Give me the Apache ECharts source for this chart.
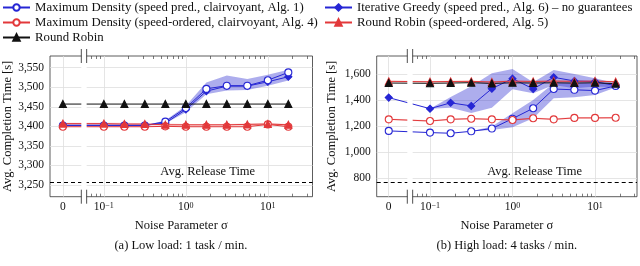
<!DOCTYPE html>
<html><head><meta charset="utf-8">
<script src="https://cdn.jsdelivr.net/npm/echarts@6/dist/echarts.min.js"></script>
<style>html,body{margin:0;padding:0;background:#fff}#c{width:640px;height:266px}</style>
</head><body><div id="c"></div>
<script>
// ---------- data ----------
const sigma = [0, 0.1, 0.178, 0.316, 0.562, 1, 1.78, 3.16, 5.62, 10, 17.8];
const xMajorTicks = [0, 0.1, 1, 10];
const xMajorLabels = ['0', '10{s|−1}', '10{s|0}', '10{s|1}'];
const xMinorTicks = [0.07, 0.08, 0.09, 0.2, 0.3, 0.4, 0.5, 0.6, 0.7, 0.8, 0.9, 2, 3, 4, 5, 6, 7, 8, 9, 20, 30];
const lowYTicks = [3250, 3300, 3350, 3400, 3450, 3500, 3550];
const highYTicks = [800, 1000, 1200, 1400, 1600];
const lowRelease = 3256;
const highRelease = 767;

// low load
const lowMDS = [3402, 3402, 3402, 3402, 3412, 3447, 3496, 3504, 3504, 3518, 3538];
const lowMDO = [3399, 3399, 3399, 3399, 3400, 3399, 3399, 3399, 3399, 3405, 3399];
const lowRR  = [3457, 3457, 3457, 3457, 3457, 3457, 3457, 3457, 3457, 3457, 3457];
const lowIG  = [3403, 3403, 3403, 3403, 3408, 3443, 3490, 3503, 3503, 3514, 3527];
const lowRRO = [3407, 3407, 3406, 3406, 3404, 3404, 3404, 3404, 3405, 3406, 3404];
const lowBlueLo = [3402, 3402, 3402, 3402, 3407, 3436, 3482, 3492, 3493, 3504, 3517];
const lowBlueHi = [3403, 3403, 3403, 3403, 3415, 3453, 3512, 3530, 3521, 3532, 3545];
const lowRedLo = [3402, 3402, 3402, 3402, 3401, 3401, 3401, 3401, 3401, 3402, 3401];
const lowRedHi = [3409, 3409, 3409, 3408, 3407, 3406, 3406, 3406, 3407, 3409, 3406];

// high load
const highMDS = [1162, 1149, 1144, 1159, 1180, 1256, 1336, 1484, 1478, 1472, 1508];
const highMDO = [1251, 1238, 1251, 1256, 1251, 1246, 1259, 1251, 1262, 1262, 1263];
const highRR  = [1530, 1528, 1530, 1533, 1527, 1532, 1530, 1532, 1530, 1532, 1525];
const highIG  = [1418, 1333, 1378, 1354, 1487, 1564, 1485, 1574, 1546, 1541, 1510];
const highRRO = [1543, 1540, 1542, 1543, 1538, 1545, 1542, 1545, 1543, 1545, 1540];
const highIGLo = [1418, 1333, 1340, 1300, 1340, 1482, 1451, 1515, 1490, 1503, 1497];
const highIGHi = [1418, 1333, 1422, 1505, 1605, 1638, 1536, 1631, 1600, 1567, 1528];
const highMDLo = [1162, 1149, 1144, 1159, 1169, 1190, 1259, 1413, 1420, 1438, 1495];
const highMDHi = [1162, 1149, 1144, 1159, 1195, 1297, 1400, 1528, 1533, 1528, 1520];
const highRedLo = [1535, 1532, 1534, 1535, 1530, 1537, 1534, 1537, 1535, 1537, 1532];
const highRedHi = [1549, 1546, 1548, 1549, 1544, 1551, 1548, 1551, 1549, 1551, 1546];
const highMDOLo = [1245, 1232, 1245, 1250, 1245, 1240, 1253, 1245, 1256, 1256, 1257];
const highMDOHi = [1257, 1244, 1257, 1262, 1257, 1252, 1265, 1257, 1268, 1268, 1269];

const N_MDS = 'Maximum Density (speed pred., clairvoyant, Alg. 1)';
const N_MDO = 'Maximum Density (speed-ordered, clairvoyant, Alg. 4)';
const N_RR  = 'Round Robin';
const N_IG  = 'Iterative Greedy (speed pred., Alg. 6) – no guarantees';
const N_RRO = 'Round Robin (speed-ordered, Alg. 5)';

// ---------- layout / style ----------
const FONT = 'Liberation Serif';
const TXT = '#111';
const BLUE = '#2626d4', RED = '#e2383a', BLACK = '#111';
const BLUE_BAND = 'rgba(50,50,210,0.40)', RED_BAND = 'rgba(230,60,60,0.22)';
const ZERO_POS = -1.5, BREAK_L = -1.275, BREAK_R = -1.21;
const xp = s => s === 0 ? ZERO_POS : Math.log10(s);
const majorPos = xMajorTicks.map(xp);
const minorPos = xMinorTicks.map(xp);

const grids = [
  {left: 49.3, top: 56, width: 263.2, height: 140.7},
  {left: 376.7, top: 56, width: 260.3, height: 140.7}
];
const xRanges = [[-1.657, 1.545], [-1.646, 1.509]];
const yRanges = [[3220, 3580], [656, 1738]];
const yTicks = [lowYTicks, highYTicks];
const releases = [lowRelease, highRelease];

const fmtThousands = v => String(Math.round(v)).replace(/\B(?=(\d{3})+(?!\d))/g, ',');

const xAxes = [], yAxes = [];
grids.forEach((g, i) => {
  const [mn, mx] = xRanges[i];
  xAxes.push({
    type: 'value', gridIndex: i, min: mn, max: mx, position: 'bottom',
    axisLine: {show: false},
    axisTick: {show: false, customValues: majorPos},
    axisLabel: {
      customValues: majorPos, fontFamily: FONT, fontSize: 11.5, color: TXT, margin: 5, lineHeight: 11,
      formatter: v => { const k = majorPos.findIndex(p => Math.abs(p - v) < 1e-6); return k >= 0 ? xMajorLabels[k] : ''; },
      rich: {s: {fontFamily: FONT, fontSize: 8, color: TXT, verticalAlign: 'top', padding: [0, 0, 8, 0]}}
    },
    splitLine: {show: true, lineStyle: {color: '#dedede', width: 0.8}},
    name: 'Noise Parameter σ', nameLocation: 'middle', nameGap: 23,
    nameTextStyle: {fontFamily: FONT, fontSize: 12.5, color: TXT}
  });
  ['top', 'bottom'].forEach(pos => xAxes.push({
    type: 'value', gridIndex: i, min: mn, max: mx, position: pos,
    axisLine: {show: false},
    axisTick: {show: true, inside: true, length: 3, customValues: minorPos, lineStyle: {color: '#444', width: 0.7}},
    axisLabel: {show: false}, splitLine: {show: false}
  }));
  yAxes.push({
    type: 'value', gridIndex: i, min: yRanges[i][0], max: yRanges[i][1],
    axisLine: {show: false},
    axisTick: {show: false, customValues: yTicks[i]},
    axisLabel: {customValues: yTicks[i], fontFamily: FONT, fontSize: 11.5, color: TXT, margin: 6, formatter: fmtThousands},
    splitLine: {show: true, lineStyle: {color: '#dedede', width: 0.8}},
    name: 'Avg. Completion Time [s]', nameLocation: 'middle', nameGap: i === 0 ? 36 : 38,
    nameTextStyle: {fontFamily: FONT, fontSize: 12.5, color: TXT}
  });
});

const pts = arr => sigma.map((s, k) => [xp(s), arr[k]]);
// confidence band drawn as one polygon through the axis scales
function band(lo, hi, gi, color) {
  return {
    type: 'custom', xAxisIndex: 3 * gi, yAxisIndex: gi, silent: true, z: 1, clip: true,
    data: sigma.map((s, k) => [xp(s), lo[k], hi[k]]),
    encode: {x: 0, y: [1, 2]},
    renderItem: (params, api) => {
      if (params.dataIndex !== 0) return {type: 'group', children: []};
      const upper = [], lower = [];
      for (let k = 0; k < sigma.length; k++) {
        upper.push(api.coord([xp(sigma[k]), hi[k]]));
        lower.push(api.coord([xp(sigma[k]), lo[k]]));
      }
      return {type: 'polygon', shape: {points: upper.concat(lower.reverse())}, style: {fill: color}};
    }
  };
}
function line(name, arr, gi, color, symbol, size, filled, extra) {
  return Object.assign({
    type: 'line', name: name, xAxisIndex: 3 * gi, yAxisIndex: gi, data: pts(arr),
    symbol: symbol, symbolSize: size, showSymbol: true,
    lineStyle: {color: color, width: 1},
    itemStyle: {color: filled ? color : '#fff', borderColor: color, borderWidth: 1.1},
    z: 3
  }, extra || {});
}
function release(gi) {
  return {silent: true, symbol: 'none', label: {show: false},
    lineStyle: {color: '#000', type: [4, 3], width: 1.2}, data: [{yAxis: releases[gi]}]};
}

const series = [
  band(lowBlueLo, lowBlueHi, 0, BLUE_BAND),
  band(lowRedLo, lowRedHi, 0, RED_BAND),
  line(N_IG, lowIG, 0, BLUE, 'diamond', 7, true),
  line(N_MDS, lowMDS, 0, BLUE, 'circle', 7, false),
  line(N_MDO, lowMDO, 0, RED, 'circle', 7, false),
  line(N_RRO, lowRRO, 0, RED, 'triangle', 7, true),
  line(N_RR, lowRR, 0, BLACK, 'triangle', 7, true, {markLine: release(0)}),

  band(highIGLo, highIGHi, 1, BLUE_BAND),
  band(highMDLo, highMDHi, 1, BLUE_BAND),
  band(highRedLo, highRedHi, 1, RED_BAND),
  band(highMDOLo, highMDOHi, 1, RED_BAND),
  line(N_IG, highIG, 1, BLUE, 'diamond', 7, true),
  line(N_MDS, highMDS, 1, BLUE, 'circle', 7, false),
  line(N_MDO, highMDO, 1, RED, 'circle', 7, false),
  line(N_RRO, highRRO, 1, RED, 'triangle', 7, true),
  line(N_RR, highRR, 1, BLACK, 'triangle', 7, true, {markLine: release(1)})
];

const legendBase = {
  orient: 'vertical', top: 1, padding: 0, itemWidth: 27, itemHeight: 8, itemGap: 2,
  textStyle: {fontFamily: FONT, fontSize: 12.8, color: TXT}, selectedMode: false
};

const option = {
  animation: false,
  backgroundColor: '#fff',
  grid: grids.map(g => Object.assign({show: true, borderColor: '#333', borderWidth: 0.8, containLabel: false}, g)),
  xAxis: xAxes,
  yAxis: yAxes,
  legend: [
    Object.assign({left: 2, data: [N_MDS, N_MDO, N_RR]}, legendBase),
    Object.assign({left: 324, data: [N_IG, N_RRO]}, legendBase)
  ],
  series: series
};

const chart = echarts.init(document.getElementById('c'));
chart.setOption(option);

const captions = ['(a) Low load: 1 task / min.', '(b) High load: 4 tasks / min.'];
const releaseLabelSigma = 1.85;
const els = [];
grids.forEach((g, i) => {
  const xl = chart.convertToPixel({xAxisIndex: 3 * i}, BREAK_L);
  const xr = chart.convertToPixel({xAxisIndex: 3 * i}, BREAK_R);
  const top = g.top, bot = g.top + g.height;
  els.push({type: 'rect', shape: {x: xl, y: top - 9, width: xr - xl, height: bot - top + 18}, style: {fill: '#fff'}, z: 100});
  [xl, xr].forEach(x => {
    els.push({type: 'line', shape: {x1: x, y1: top - 7, x2: x, y2: top + 7}, style: {stroke: '#222', lineWidth: 0.8}, z: 101});
    els.push({type: 'line', shape: {x1: x, y1: bot - 7, x2: x, y2: bot + 7}, style: {stroke: '#222', lineWidth: 0.8}, z: 101});
  });
  const tx = chart.convertToPixel({xAxisIndex: 3 * i}, xp(releaseLabelSigma));
  const ty = chart.convertToPixel({yAxisIndex: i}, releases[i]);
  els.push({type: 'text', x: tx, y: ty - 11, z: 101,
    style: {text: 'Avg. Release Time', font: '12.5px "Liberation Serif"', fill: TXT, align: 'center', verticalAlign: 'middle'}});
  els.push({type: 'text', x: g.left + g.width / 2, y: 246, z: 101,
    style: {text: captions[i], font: '12.5px "Liberation Serif"', fill: TXT, align: 'center', verticalAlign: 'middle'}});
});
chart.setOption({graphic: els});
</script>
</body></html>
